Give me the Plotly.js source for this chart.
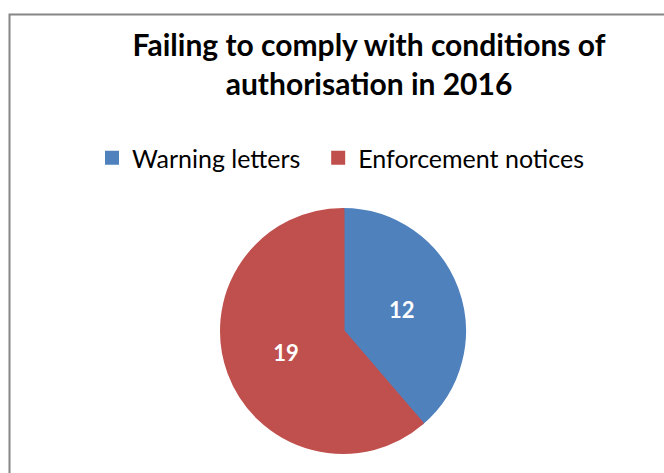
<!DOCTYPE html>
<html>
<head>
<meta charset="utf-8">
<script src="https://cdn.plot.ly/plotly-3.0.1.min.js"></script>
<style>html,body{margin:0;padding:0;background:#fff;}#chart{width:664px;height:473px;}</style>
</head>
<body>
<div id="chart"></div>
<script>
const categories = ["Warning letters", "Enforcement notices"];
const values = [12, 19];
const colors = ["#4F81BD", "#C0504D"];
const titleText = "Failing to comply with conditions of<br>authorisation in 2016";

const W = 664, H = 473;
// trailing non-breaking spaces widen the gap between the legend entries
const legendLabels = categories.map((c, i) => i < categories.length - 1 ? c + "\u00a0\u00a0" : c);

const trace = {
  type: "pie",
  labels: legendLabels,
  values: values,
  sort: false,
  direction: "clockwise",
  rotation: 0,
  marker: {colors: colors, line: {width: 3, color: colors}},
  textinfo: "value",
  textposition: "inside",
  insidetextorientation: "horizontal",
  textfont: {family: "Lato, 'Open Sans', sans-serif", size: 22, color: "#ffffff", weight: "bold"},
  hoverinfo: "none",
  domain: {x: [221.5 / W, 464.5 / W], y: [20.5 / H, 263.5 / H]}
};

const layout = {
  width: W, height: H,
  margin: {l: 0, r: 0, t: 0, b: 0},
  paper_bgcolor: "#ffffff",
  showlegend: true,
  title: {
    text: titleText,
    font: {family: "Lato, 'Open Sans', sans-serif", size: 30, color: "#000000", weight: "bold"},
    x: 369 / W, xanchor: "center",
    y: 1 - 56 / H, yanchor: "top"
  },
  legend: {
    orientation: "h",
    x: 92 / W, xanchor: "left",
    y: 1 - 135 / H, yanchor: "top",
    font: {family: "Lato, 'Open Sans', sans-serif", size: 25, color: "#000000"},
    itemsizing: "constant",
    traceorder: "normal"
  },
  shapes: [{
    type: "rect", xref: "paper", yref: "paper",
    x0: 9.5 / W, x1: 1.05, y0: -0.05, y1: 1 - 14.5 / H,
    line: {color: "#868686", width: 2}
  }]
};

Plotly.newPlot("chart", [trace], layout, {staticPlot: true});
</script>
</body>
</html>
